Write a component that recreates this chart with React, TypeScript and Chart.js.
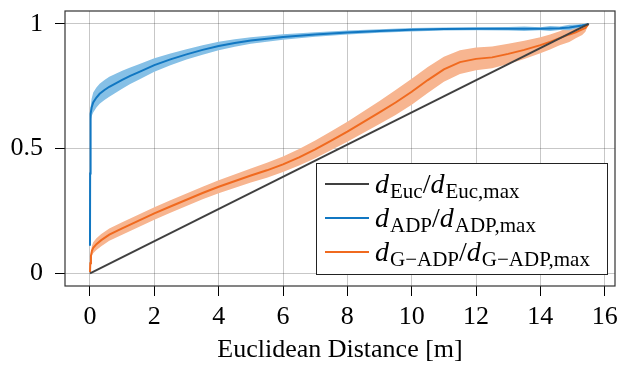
import React, { useEffect, useRef } from 'react';
import { Chart, registerables } from 'chart.js';
Chart.register(...registerables);

const FONT = '"Liberation Serif", "Times New Roman", serif';

const X_TICKS = [0, 2, 4, 6, 8, 10, 12, 14, 16];
const Y_TICKS = [0, 0.5, 1];

const eucX = [0, 15.5];
const eucY = [0, 1];

const adpX = [0, 0.004, 0.012, 0.025, 0.05, 0.1, 0.2, 0.3, 0.45, 0.6, 0.8, 1, 1.25, 1.5, 2, 2.5, 3, 3.5, 4, 4.5, 5, 6, 7, 8, 9, 10, 11, 12, 13, 13.5, 14, 14.3, 14.6, 14.9, 15.1, 15.3, 15.5];
const adpY = [0.11, 0.4, 0.58, 0.64, 0.665, 0.685, 0.705, 0.72, 0.735, 0.748, 0.762, 0.776, 0.792, 0.806, 0.835, 0.858, 0.878, 0.896, 0.912, 0.924, 0.934, 0.948, 0.958, 0.966, 0.972, 0.977, 0.98, 0.981, 0.981, 0.981, 0.981, 0.982, 0.983, 0.986, 0.99, 0.994, 1.0];
const adpSpread = [0, 0, 0.01, 0.025, 0.035, 0.04, 0.04, 0.04, 0.04, 0.04, 0.038, 0.036, 0.033, 0.031, 0.027, 0.024, 0.021, 0.019, 0.017, 0.015, 0.013, 0.011, 0.009, 0.008, 0.007, 0.007, 0.006, 0.006, 0.007, 0.009, 0.006, 0.01, 0.007, 0.011, 0.008, 0.006, 0];

const gX = [0, 0.01, 0.03, 0.06, 0.1, 0.2, 0.35, 0.6, 1, 1.5, 2, 2.5, 3, 3.5, 4, 5, 5.5, 6, 6.5, 7, 7.5, 8, 9, 9.5, 10, 10.5, 11, 11.5, 12, 12.5, 13, 13.5, 14, 14.3, 14.6, 14.9, 15.1, 15.3, 15.4, 15.5];
const gY = [0.005, 0.04, 0.07, 0.09, 0.102, 0.117, 0.133, 0.155, 0.18, 0.21, 0.24, 0.268, 0.295, 0.322, 0.347, 0.392, 0.413, 0.437, 0.465, 0.497, 0.532, 0.568, 0.645, 0.685, 0.728, 0.775, 0.818, 0.847, 0.86, 0.866, 0.88, 0.896, 0.915, 0.928, 0.943, 0.958, 0.967, 0.978, 0.984, 1.0];
const gSpread = [0, 0.01, 0.015, 0.02, 0.022, 0.024, 0.025, 0.025, 0.025, 0.025, 0.025, 0.025, 0.025, 0.025, 0.026, 0.028, 0.03, 0.031, 0.033, 0.036, 0.038, 0.04, 0.046, 0.05, 0.052, 0.052, 0.05, 0.048, 0.046, 0.044, 0.041, 0.037, 0.032, 0.03, 0.028, 0.03, 0.024, 0.022, 0.015, 0];

const GRAY = '#404040';
const BLUE = '#1177c2';
const BLUE_BAND = '#86c0e6';
const ORANGE = '#f06a1f';
const ORANGE_BAND = '#f7b590';

const pts = (xs: number[], ys: number[]) => xs.map((x, i) => ({ x, y: ys[i] }));
const band = (xs: number[], ys: number[], sp: number[], sign: number) =>
  xs.map((x, i) => ({ x, y: ys[i] + sign * sp[i] }));

type Part = { t: string; it?: boolean; sub?: boolean };
const LEGEND: { color: string; parts: Part[] }[] = [
  { color: GRAY, parts: [{ t: 'd', it: true }, { t: 'Euc', sub: true }, { t: '/' }, { t: 'd', it: true }, { t: 'Euc,max', sub: true }] },
  { color: BLUE, parts: [{ t: 'd', it: true }, { t: 'ADP', sub: true }, { t: '/' }, { t: 'd', it: true }, { t: 'ADP,max', sub: true }] },
  { color: ORANGE, parts: [{ t: 'd', it: true }, { t: 'G\u2212ADP', sub: true }, { t: '/' }, { t: 'd', it: true }, { t: 'G\u2212ADP,max', sub: true }] },
];

const framePlugin = {
  id: 'frameLegend',
  afterDraw(chart: any) {
    const { ctx, chartArea: a } = chart;
    ctx.save();
    ctx.strokeStyle = '#333';
    ctx.lineWidth = 1.2;
    ctx.strokeRect(a.left, a.top, a.right - a.left, a.bottom - a.top);
    // legend
    const bx = a.right - 299, by = a.bottom - 123, bw = 291, bh = 111;
    ctx.fillStyle = '#fff';
    ctx.fillRect(bx, by, bw, bh);
    ctx.strokeStyle = '#222';
    ctx.lineWidth = 1;
    ctx.strokeRect(bx + 0.5, by + 0.5, bw, bh);
    LEGEND.forEach((row, i) => {
      const ly = by + 21 + i * 34;
      ctx.strokeStyle = row.color;
      ctx.lineWidth = 2;
      ctx.beginPath();
      ctx.moveTo(bx + 9, ly);
      ctx.lineTo(bx + 53, ly);
      ctx.stroke();
      let x = bx + 59;
      const base = ly + 9;
      ctx.fillStyle = '#000';
      ctx.textBaseline = 'alphabetic';
      ctx.textAlign = 'left';
      row.parts.forEach((p) => {
        ctx.font = p.sub ? `21px ${FONT}` : p.it ? `italic 28px ${FONT}` : `28px ${FONT}`;
        const y = p.sub ? base + 5 : base;
        ctx.fillText(p.t, x, y);
        x += ctx.measureText(p.t).width + (p.it ? 1 : 0);
      });
    });
    ctx.restore();
  },
};

export default function App() {
  const ref = useRef<HTMLCanvasElement>(null);
  useEffect(() => {
    document.body.style.margin = '0';
    const chart = new Chart(ref.current!, {
      type: 'line',
      data: {
        datasets: [
          { label: 'euc', data: pts(eucX, eucY), borderColor: GRAY, borderWidth: 2, pointRadius: 0, order: 0, fill: false },
          { label: 'adp', data: pts(adpX, adpY), borderColor: BLUE, borderWidth: 2, pointRadius: 0, order: 1, fill: false },
          { label: 'gadp', data: pts(gX, gY), borderColor: ORANGE, borderWidth: 2, pointRadius: 0, order: 1, fill: false },
          { label: 'adpU', data: band(adpX, adpY, adpSpread, 1), borderWidth: 0, borderColor: 'transparent', backgroundColor: BLUE_BAND, pointRadius: 0, order: 10, fill: '+1' },
          { label: 'adpL', data: band(adpX, adpY, adpSpread, -1), borderWidth: 0, borderColor: 'transparent', pointRadius: 0, order: 10, fill: false },
          { label: 'gU', data: band(gX, gY, gSpread, 1), borderWidth: 0, borderColor: 'transparent', backgroundColor: ORANGE_BAND, pointRadius: 0, order: 10, fill: '+1' },
          { label: 'gL', data: band(gX, gY, gSpread, -1), borderWidth: 0, borderColor: 'transparent', pointRadius: 0, order: 10, fill: false },
        ],
      },
      options: {
        responsive: false,
        animation: false,
        layout: { padding: { top: 11, right: 11, left: 0, bottom: 0 } },
        plugins: { legend: { display: false }, tooltip: { enabled: false } },
        elements: { line: { tension: 0 } },
        scales: {
          x: {
            type: 'linear',
            min: -0.777,
            max: 16.32,
            afterBuildTicks: (s: any) => { s.ticks = X_TICKS.map((v) => ({ value: v })); },
            afterFit: (s: any) => { s.height = 81; s.paddingLeft = 0; s.paddingRight = 0; },
            grid: { color: 'rgba(0,0,0,0.22)', tickColor: '#000', tickLength: 10, lineWidth: 1 },
            border: { display: false },
            ticks: { font: { family: FONT, size: 26 }, color: '#000', padding: 6, maxRotation: 0, autoSkip: false, callback: (v: any) => String(v) },
            title: { display: true, text: 'Euclidean Distance [m]', font: { family: FONT, size: 26 }, color: '#000', padding: { top: 0, bottom: 1 } },
          },
          y: {
            type: 'linear',
            min: -0.051,
            max: 1.052,
            afterBuildTicks: (s: any) => { s.ticks = Y_TICKS.map((v) => ({ value: v })); },
            afterFit: (s: any) => { s.width = 65; s.paddingTop = 0; s.paddingBottom = 0; },
            grid: { color: 'rgba(0,0,0,0.22)', tickColor: '#000', tickLength: 10, lineWidth: 1 },
            border: { display: false },
            ticks: { font: { family: FONT, size: 26 }, color: '#000', padding: 12, autoSkip: false, callback: (v: any) => String(v) },
          },
        },
      },
      plugins: [framePlugin],
    } as any);
    return () => chart.destroy();
  }, []);
  return <canvas ref={ref} width={626} height={367} style={{ display: 'block' }} />;
}
